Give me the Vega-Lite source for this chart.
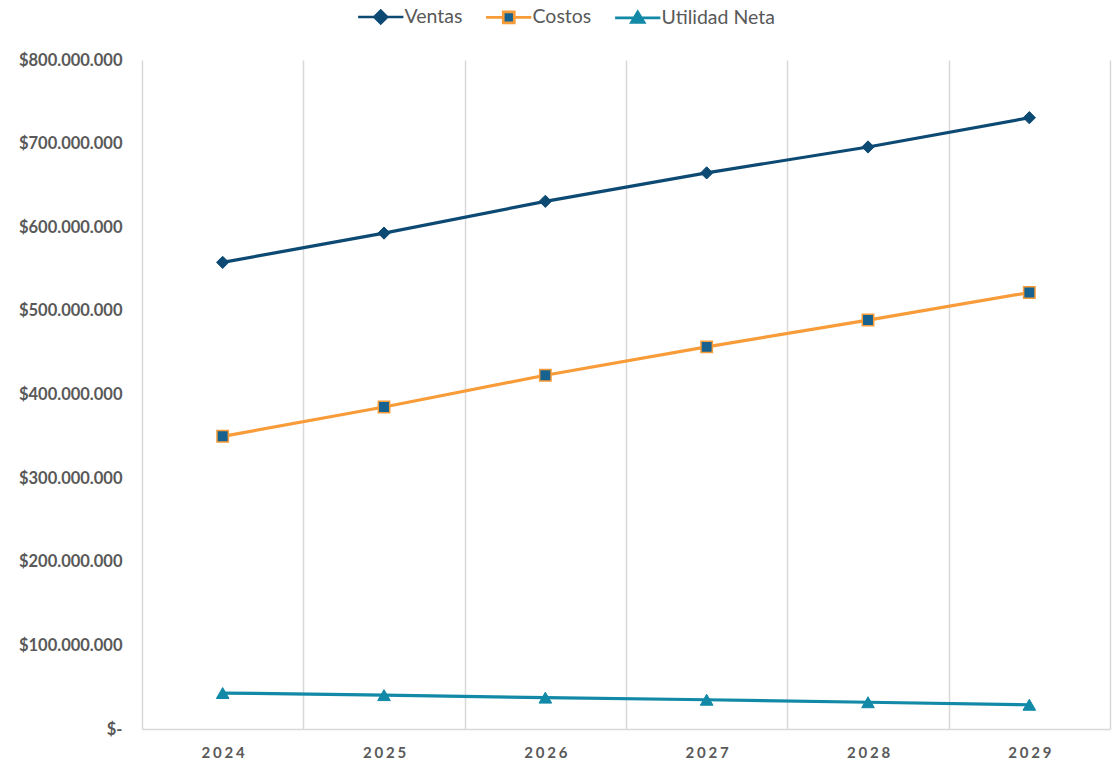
{
  "$schema": "https://vega.github.io/schema/vega-lite/v6.json",
  "width": 968,
  "height": 669,
  "autosize": {"type": "none"},
  "padding": {"left": 142, "top": 60, "right": 4, "bottom": 36},
  "background": "#ffffff",
  "config": {
    "view": {"stroke": null},
    "locale": {"number": {"decimal": ",", "thousands": ".", "grouping": [3], "currency": ["$", ""]}},
    "font": "Lato"
  },
  "data": {
    "values": [
      {"anio": "2024", "serie": "Ventas", "valor": 558000000},
      {"anio": "2025", "serie": "Ventas", "valor": 593000000},
      {"anio": "2026", "serie": "Ventas", "valor": 631000000},
      {"anio": "2027", "serie": "Ventas", "valor": 665000000},
      {"anio": "2028", "serie": "Ventas", "valor": 696000000},
      {"anio": "2029", "serie": "Ventas", "valor": 731000000},
      {"anio": "2024", "serie": "Costos", "valor": 350000000},
      {"anio": "2025", "serie": "Costos", "valor": 385000000},
      {"anio": "2026", "serie": "Costos", "valor": 423000000},
      {"anio": "2027", "serie": "Costos", "valor": 457000000},
      {"anio": "2028", "serie": "Costos", "valor": 489000000},
      {"anio": "2029", "serie": "Costos", "valor": 522000000},
      {"anio": "2024", "serie": "Utilidad Neta", "valor": 43000000},
      {"anio": "2025", "serie": "Utilidad Neta", "valor": 40500000},
      {"anio": "2026", "serie": "Utilidad Neta", "valor": 37500000},
      {"anio": "2027", "serie": "Utilidad Neta", "valor": 35000000},
      {"anio": "2028", "serie": "Utilidad Neta", "valor": 32000000},
      {"anio": "2029", "serie": "Utilidad Neta", "valor": 29000000}
    ]
  },
  "encoding": {
    "x": {
      "field": "anio",
      "type": "ordinal",
      "bandPosition": 0.5,
      "scale": {"type": "band", "paddingInner": 0, "paddingOuter": 0},
      "axis": {
        "title": null,
        "grid": true,
        "tickBand": "extent",
        "gridColor": "#d9d9d9",
        "gridWidth": 1.5,
        "ticks": false,
        "domain": true,
        "domainColor": "#d9d9d9",
        "domainWidth": 1.5,
        "labelAngle": 0,
        "labelPadding": 16,
        "labelFont": "Lato",
        "labelFontSize": 15,
        "labelFontWeight": "bold",
        "labelColor": "#595959",
        "labelExpr": "join(split(datum.label, ''), '\u2009\u200a')"
      }
    },
    "y": {
      "field": "valor",
      "type": "quantitative",
      "scale": {"domain": [0, 800000000]},
      "axis": {
        "title": null,
        "grid": false,
        "domain": false,
        "ticks": false,
        "values": [0, 100000000, 200000000, 300000000, 400000000, 500000000, 600000000, 700000000, 800000000],
        "labelOverlap": false,
        "labelPadding": 20,
        "labelFont": "Lato",
        "labelFontSize": 16.5,
        "labelFontWeight": "bold",
        "labelColor": "#595959",
        "labelExpr": "datum.value == 0 ? '$-' : format(datum.value, '$,.0f')"
      }
    }
  },
  "layer": [
    {
      "mark": {"type": "line", "strokeWidth": 3.2},
      "encoding": {
        "color": {
          "field": "serie",
          "type": "nominal",
          "scale": {"domain": ["Ventas", "Costos", "Utilidad Neta"], "range": ["#0d4a73", "#f89c3a", "#1189a7"]},
          "legend": {
            "title": null,
            "orient": "none",
            "legendX": 229,
            "legendY": -53,
            "direction": "horizontal",
            "labelFont": "Lato",
            "labelFontSize": 19.5,
            "labelColor": "#595959",
            "labelOffset": 14,
            "columnPadding": 17,
            "symbolSize": 200,
            "symbolStrokeWidth": 3,
            "encode": {
              "symbols": {
                "update": {
                  "shape": {"signal": "datum.value == 'Ventas' ? 'M-3.2,0H3.2M0,-0.9L0.9,0L0,0.9L-0.9,0Z' : datum.value == 'Costos' ? 'M-3.2,0H-0.78M0.78,0H3.2M-0.78,-0.78H0.78V0.78H-0.78Z' : 'M-3.2,0H3.2M0,-0.85L0.9,0.65L-0.9,0.65Z'"},
                  "fill": {"signal": "datum.value == 'Ventas' ? '#0d4a73' : datum.value == 'Costos' ? '#17628f' : '#1189a7'"},
                  "stroke": {"signal": "datum.value == 'Ventas' ? '#0d4a73' : datum.value == 'Costos' ? '#f89c3a' : '#1189a7'"},
                  "strokeWidth": {"value": 2.7},
                  "opacity": {"value": 1}
                }
              }
            }
          }
        }
      }
    },
    {
      "transform": [{"filter": "datum.serie == 'Ventas'"}],
      "mark": {"type": "point", "shape": "diamond", "filled": true, "opacity": 1, "fill": "#0d4a73", "stroke": "#0d4a73", "strokeWidth": 1, "size": 150}
    },
    {
      "transform": [{"filter": "datum.serie == 'Costos'"}],
      "mark": {"type": "point", "shape": "square", "filled": true, "opacity": 1, "fill": "#17628f", "stroke": "#f89c3a", "strokeWidth": 1.5, "size": 130}
    },
    {
      "transform": [{"filter": "datum.serie == 'Utilidad Neta'"}],
      "mark": {"type": "point", "shape": "triangle-up", "filled": true, "opacity": 1, "fill": "#1189a7", "stroke": "#1189a7", "strokeWidth": 1, "size": 160}
    }
  ]
}
